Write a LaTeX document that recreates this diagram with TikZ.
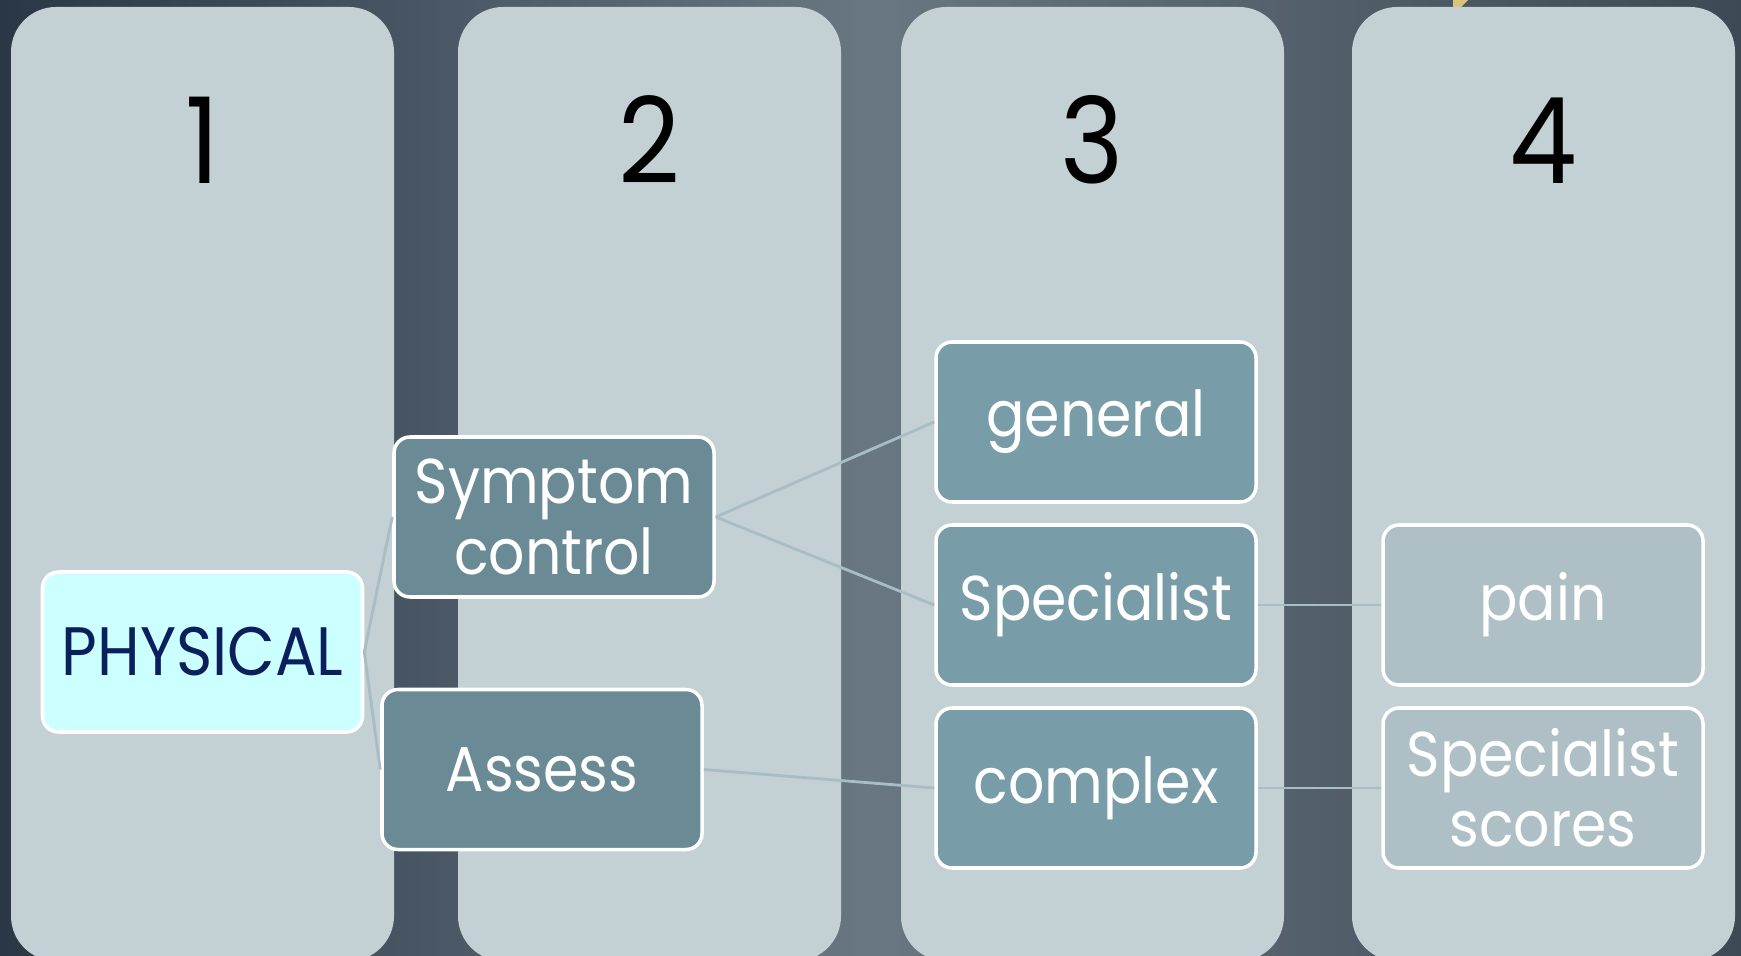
\documentclass[tikz,border=0pt]{standalone}
\usepackage{fontspec}
\setmainfont{Poppins}[FakeStretch=0.9]
\usetikzlibrary{positioning}
\definecolor{bgl}{HTML}{2A3846}
\definecolor{bgm}{HTML}{687782}
\definecolor{bgr}{HTML}{3D4955}
\definecolor{colfill}{HTML}{C3D0D4}
\definecolor{rootfill}{HTML}{CCFFFF}
\definecolor{rootink}{HTML}{0B1F5C}
\definecolor{midfill}{HTML}{6A8B95}
\definecolor{leaffill}{HTML}{789CA8}
\definecolor{farfill}{HTML}{AEBFC5}
\definecolor{lnc}{HTML}{A9BDC4}
\definecolor{tip}{HTML}{D8C47C}
\tikzset{
  col/.style={fill=colfill,rounded corners=4.5mm},
  num/.style={anchor=base,font=\fontsize{34}{36}\selectfont},
  box/.style={draw=white,line width=1pt,rounded corners=1.6mm,minimum width=3.2cm,minimum height=1.6cm,
              align=center,text=white,font=\fontsize{18}{20}\selectfont},
  root/.style={box,fill=rootfill,text=rootink,font=\fontsize{19.5}{21}\selectfont},
  mid/.style={box,fill=midfill},
  leaf/.style={box,fill=leaffill},
  far/.style={box,fill=farfill},
  ln/.style={draw=lnc,line width=0.8pt},
}

\begin{document}
\begin{tikzpicture}
  \useasboundingbox (0,0) rectangle (17.41,9.55);
  \clip (0,0) rectangle (17.41,9.55);
  % hatter
  \shade[left color=bgl,right color=bgr,middle color=bgm] (0,0) rectangle (17.41,9.55);
  \fill[tip] (14.53,9.55) -- (14.68,9.55) -- (14.53,9.40) -- cycle;
  % oszlopok
  \foreach \x/\n in {0.11/1,4.58/2,9.01/3,13.52/4} {
    \fill[col] (\x,-0.06) rectangle ++(3.83,9.54);
    \node[num] (n\n) at (\x+1.915,7.71) {\n};
  }
  % dobozok
  \node[root] (phys) at (2.025,3.03) {PHYSICAL};
  \node[mid] (symp) at (5.54,4.38) {Symptom\\control};
  \node[mid] (assess) at (5.42,1.855) {Assess};
  \node[leaf] (gen) at (10.96,5.33) {general};
  \node[leaf] (spec) at (10.96,3.50) {Specialist};
  \node[leaf] (cplx) at (10.96,1.67) {complex};
  \node[far] (pain) at (15.43,3.50) {pain};
  \node[far] (scores) at (15.43,1.67) {Specialist\\scores};
  % vonalak
  \draw[ln] (phys.east) -- (symp.west);
  \draw[ln] (phys.east) -- (assess.west);
  \draw[ln] (symp.east) -- (gen.west);
  \draw[ln] (symp.east) -- (spec.west);
  \draw[ln] (assess.east) -- (cplx.west);
  \draw[ln] (spec.east) -- (pain.west);
  \draw[ln] (cplx.east) -- (scores.west);
\end{tikzpicture}
\end{document}
